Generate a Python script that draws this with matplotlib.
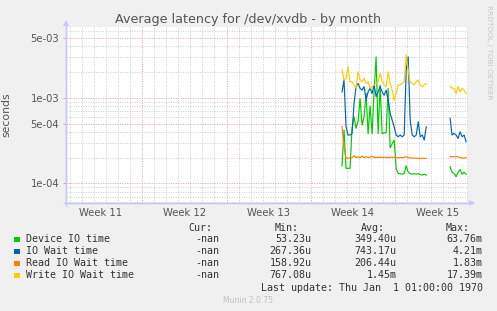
import numpy as np
import matplotlib
matplotlib.use("Agg")
import matplotlib.pyplot as plt
from matplotlib.transforms import blended_transform_factory

# ---- data (seconds), sampled every 4 hours; x in days of the month window ----
seg1_start = 23.6
seg2_start = 32.58
step = 1.0 / 6.0

device_1 = [1.6e-4, 4.2e-4, 1.5e-4, 1.5e-4, 1.5e-4, 4.4e-4, 6.0e-4, 4.4e-4, 5.3e-4, 9.8e-4,
            4.8e-4, 6.0e-4, 1.12e-3, 3.8e-4, 8.0e-4, 3.8e-4, 1.2e-3, 3.0e-3, 3.8e-4, 1.4e-3,
            3.8e-4, 3.9e-4, 3.9e-4, 1.29e-3, 2.6e-4, 2.9e-4, 3.2e-4, 1.5e-4, 1.3e-4, 1.3e-4,
            1.28e-4, 1.3e-4, 1.6e-4, 1.35e-4, 1.3e-4, 1.28e-4, 1.3e-4, 1.28e-4, 1.3e-4, 1.27e-4,
            1.25e-4, 1.28e-4, 1.25e-4]
iowait_1 = [1.17e-3, 1.61e-3, 4.58e-4, 3.67e-4, 3.67e-4, 3.84e-4, 8.6e-4, 1.35e-3, 1.47e-3, 1.29e-3,
            1.23e-3, 1.35e-3, 9.4e-4, 1.17e-3, 1.29e-3, 1.12e-3, 1.41e-3, 1.03e-3, 1.17e-3, 1.35e-3,
            1.17e-3, 1.07e-3, 1.23e-3, 9.4e-4, 6.57e-4, 5.49e-4, 4.58e-4, 3.67e-4, 3.5e-4, 3.67e-4,
            3.5e-4, 3.67e-4, 2.11e-3, 3.0e-3, 5.49e-4, 3.67e-4, 3.5e-4, 3.67e-4, 5.25e-4, 3.5e-4,
            3.67e-4, 3.21e-4, 4.58e-4]
read_1 = [4.6e-4, 2.6e-4, 1.98e-4, 1.96e-4, 2.0e-4, 2.0e-4, 2.1e-4, 2.0e-4, 2.05e-4, 2.0e-4,
          2.08e-4, 2.0e-4, 2.05e-4, 2.0e-4, 2.02e-4, 2.08e-4, 2.0e-4, 2.02e-4, 2.0e-4, 2.03e-4,
          2.0e-4, 2.02e-4, 2.0e-4, 2.01e-4, 2.0e-4, 2.03e-4, 2.0e-4, 2.0e-4, 1.99e-4, 2.0e-4,
          2.0e-4, 2.02e-4, 2.05e-4, 2.0e-4, 1.98e-4, 1.98e-4, 1.97e-4, 1.97e-4, 1.96e-4, 1.96e-4,
          1.96e-4, 1.96e-4, 1.96e-4]
write_1 = [2.11e-3, 1.61e-3, 1.69e-3, 2.30e-3, 1.54e-3, 1.54e-3, 1.41e-3, 1.29e-3, 2.01e-3, 1.61e-3,
           1.54e-3, 1.69e-3, 1.47e-3, 1.54e-3, 1.29e-3, 1.35e-3, 1.41e-3, 1.47e-3, 1.54e-3, 1.93e-3,
           1.54e-3, 1.41e-3, 1.35e-3, 2.01e-3, 1.47e-3, 1.23e-3, 9.4e-4, 1.12e-3, 1.41e-3, 1.41e-3,
           1.47e-3, 1.54e-3, 3.16e-3, 2.11e-3, 1.54e-3, 1.47e-3, 1.41e-3, 1.54e-3, 1.61e-3, 1.41e-3,
           1.35e-3, 1.41e-3, 1.47e-3]

device_2 = [1.56e-4, 1.35e-4, 1.3e-4, 1.2e-4, 1.35e-4, 1.45e-4, 1.28e-4, 1.35e-4, 1.28e-4]
iowait_2 = [5.75e-4, 3.67e-4, 3.84e-4, 3.67e-4, 3.35e-4, 4.0e-4, 3.5e-4, 3.67e-4, 3.06e-4]
read_2 = [2.05e-4, 2.05e-4, 2.05e-4, 2.05e-4, 2.05e-4, 2.0e-4, 1.96e-4, 1.98e-4, 2.0e-4]
write_2 = [1.37e-3, 1.29e-3, 1.29e-3, 1.12e-3, 1.35e-3, 1.17e-3, 1.29e-3, 1.23e-3, 1.12e-3]

series_names = ["Device IO time", "IO Wait time", "Read IO Wait time", "Write IO Wait time"]
series_colors = ["#00CC00", "#0066B3", "#FF8000", "#FFCC00"]
cur_vals = ["-nan", "-nan", "-nan", "-nan"]
min_vals = ["53.23u", "267.36u", "158.92u", "767.08u"]
avg_vals = ["349.40u", "743.17u", "206.44u", "1.45m"]
max_vals = ["63.76m", "4.21m", "1.83m", "17.39m"]

week_labels = ["Week 11", "Week 12", "Week 13", "Week 14", "Week 15"]
week_centers = [3.5, 10.5, 17.5, 24.5, 31.5]
week_bounds = [7, 14, 21, 28]
ytick_vals = [1e-4, 5e-4, 1e-3, 5e-3]
ytick_labels = ["1e-04", "5e-04", "1e-03", "5e-03"]

W, H = 497, 311
fig = plt.figure(figsize=(W / 100, H / 100), dpi=100, facecolor="#F0F0F0")
ax = fig.add_axes([66 / W, 1 - 203 / H, 402 / W, 176 / H])
ax.set_facecolor("white")
ax.set_yscale("log")
ax.set_xlim(0.66, 34.07)
ax.set_ylim(5.9e-5, 6.7e-3)

# grid
minor_col = "#CCCCCC"
major_col = "#E8A0A0"
dash = (0, (1, 1.5))
for d in range(1, 35):
    if d in week_bounds:
        continue
    ax.axvline(d, color=minor_col, lw=0.7, ls=dash, zorder=0)
for d in week_bounds:
    ax.axvline(d, color=major_col, lw=0.7, ls=dash, zorder=0.5)
for dec in [1e-5, 1e-4, 1e-3]:
    for m in [2, 3, 4, 6, 7, 8, 9]:
        ax.axhline(m * dec, color=minor_col, lw=0.7, ls=dash, zorder=0)
for v in ytick_vals:
    ax.axhline(v, color=major_col, lw=0.7, ls=dash, zorder=0.5)

# series
t1 = seg1_start + step * np.arange(len(device_1))
t2 = seg2_start + step * np.arange(len(device_2))
segs1 = [device_1, iowait_1, read_1, write_1]
segs2 = [device_2, iowait_2, read_2, write_2]
for s1, s2, c in zip(segs1, segs2, series_colors):
    ax.plot(t1, s1, color=c, lw=0.85, zorder=3)
    ax.plot(t2, s2, color=c, lw=0.85, zorder=3)

# ticks
ax.set_yticks(ytick_vals)
ax.set_yticklabels(ytick_labels)
ax.yaxis.set_minor_locator(matplotlib.ticker.NullLocator())
ax.tick_params(axis="y", which="major", length=2, width=0.7, color=major_col,
               labelsize=7.2, labelcolor="#555555", pad=3)
ax.set_xticks([])
trans = blended_transform_factory(ax.transData, ax.transAxes)
for xc, lab in zip(week_centers, week_labels):
    ax.text(xc, -10 / 176, lab, transform=trans, ha="center", va="center",
            fontsize=7.2, color="#555555")

for sp in ["top", "right"]:
    ax.spines[sp].set_visible(False)
axis_col = "#C8C8F8"
ax.spines["left"].set_color(axis_col)
ax.spines["bottom"].set_color(axis_col)
ax.spines["left"].set_linewidth(1.0)
ax.spines["bottom"].set_linewidth(1.0)
# axis extensions with arrows
ax.plot([0, 0], [-0.015, 1.02], transform=ax.transAxes, color=axis_col, lw=1.0, clip_on=False)
ax.plot([-0.006, 1.01], [0, 0], transform=ax.transAxes, color=axis_col, lw=1.0, clip_on=False)
ax.plot([0], [1.02], transform=ax.transAxes, marker="^", ms=4, color=axis_col,
        clip_on=False, markeredgewidth=0)
ax.plot([1.01], [0], transform=ax.transAxes, marker=">", ms=4, color=axis_col,
        clip_on=False, markeredgewidth=0)

ax.set_ylabel("seconds", fontsize=7.8, color="#555555", labelpad=8)
ax.yaxis.set_label_coords(-55 / 402, 0.5)

fig.text(248 / W, 1 - 19 / H, "Average latency for /dev/xvdb - by month",
         ha="center", va="center", fontsize=9.2, color="#555555")
fig.text(489 / W, 1 - 5 / H, "RRDTOOL / TOBI OETIKER", rotation=270, ha="center",
         va="top", fontsize=5.3, color="#C8C8C8")

# legend
mono = "DejaVu Sans Mono"
fs = 7.2
tc = "#333333"
hy = 228.3
fig.text(212.7 / W, 1 - hy / H, "Cur:", ha="right", va="center", family=mono, fontsize=fs, color=tc)
fig.text(298.7 / W, 1 - hy / H, "Min:", ha="right", va="center", family=mono, fontsize=fs, color=tc)
fig.text(385 / W, 1 - hy / H, "Avg:", ha="right", va="center", family=mono, fontsize=fs, color=tc)
fig.text(470 / W, 1 - hy / H, "Max:", ha="right", va="center", family=mono, fontsize=fs, color=tc)
for i, (n, c) in enumerate(zip(series_names, series_colors)):
    y = 239.5 + 12 * i
    fig.patches.append(plt.Rectangle((14 / W, 1 - (y + 2.7) / H), 5.5 / W, 5.5 / H,
                                     transform=fig.transFigure, color=c, lw=0))
    fig.text(26 / W, 1 - y / H, n, ha="left", va="center", family=mono, fontsize=fs, color=tc)
    fig.text(219.5 / W, 1 - y / H, cur_vals[i], ha="right", va="center", family=mono, fontsize=fs, color=tc)
    fig.text(311.7 / W, 1 - y / H, min_vals[i], ha="right", va="center", family=mono, fontsize=fs, color=tc)
    fig.text(396.7 / W, 1 - y / H, avg_vals[i], ha="right", va="center", family=mono, fontsize=fs, color=tc)
    fig.text(482.7 / W, 1 - y / H, max_vals[i], ha="right", va="center", family=mono, fontsize=fs, color=tc)
fig.text(482.7 / W, 1 - 287.7 / H, "Last update: Thu Jan  1 01:00:00 1970", ha="right",
         va="center", family=mono, fontsize=fs, color=tc)
fig.text(248 / W, 1 - 300.5 / H, "Munin 2.0.75", ha="center", va="center",
         fontsize=5.5, color="#C0C0C0")

fig.savefig("out.png", dpi=100, facecolor=fig.get_facecolor())
